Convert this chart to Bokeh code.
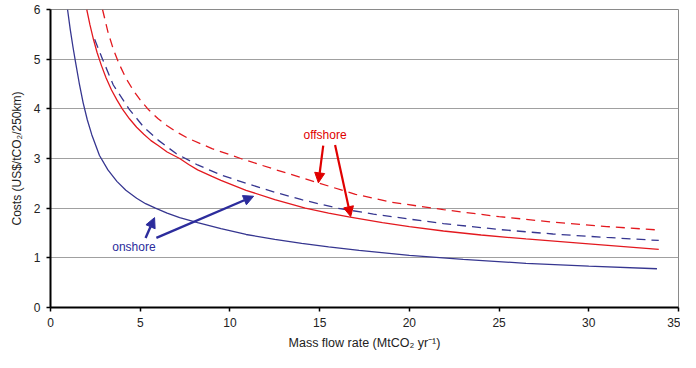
from bokeh.plotting import figure
from bokeh.models import Arrow, NormalHead, Range1d, FixedTicker, Label
from bokeh.embed import file_html
from bokeh.resources import INLINE

# Data
onshore_solid_x = [0.95, 1.1, 1.25, 1.4, 1.6, 1.82, 2.05, 2.3, 2.73, 3.2, 3.7, 4.2, 4.8, 5.3, 5.85, 6.5, 7.2, 8.2, 9.5, 10.9, 12.5, 14.0, 15.5, 17.2, 20.0, 23.0, 26.5, 30.0, 33.8]
onshore_solid_y = [6.0, 5.6, 5.25, 4.93, 4.52, 4.12, 3.78, 3.48, 3.06, 2.77, 2.54, 2.36, 2.2, 2.09, 2.0, 1.9, 1.81, 1.71, 1.59, 1.47, 1.37, 1.29, 1.22, 1.15, 1.05, 0.97, 0.89, 0.835, 0.78]

onshore_dash_x = [2.46, 2.9, 3.5, 4.37, 5.2, 6.0, 7.0, 8.2, 9.5, 10.9, 12.5, 14.0, 16.0, 18.0, 20.0, 21.9, 25.0, 28.0, 31.0, 33.9]
onshore_dash_y = [5.4, 5.0, 4.48, 4.0, 3.63, 3.37, 3.1, 2.87, 2.67, 2.5, 2.32, 2.17, 2.0, 1.88, 1.78, 1.69, 1.57, 1.48, 1.41, 1.35]

offshore_solid_x = [2.02, 2.2, 2.4, 2.6, 2.84, 3.1, 3.4, 3.7, 4.0, 4.4, 4.8, 5.2, 5.6, 6.0, 6.5, 7.2, 7.7, 8.2, 9.0, 9.5, 10.9, 12.5, 14.2, 15.5, 16.7, 18.5, 20.0, 21.9, 24.0, 26.5, 30.0, 33.9]
offshore_solid_y = [6.0, 5.69, 5.39, 5.13, 4.87, 4.62, 4.38, 4.18, 4.0, 3.8, 3.63, 3.49, 3.36, 3.26, 3.13, 3.0, 2.88, 2.77, 2.64, 2.56, 2.36, 2.17, 2.0, 1.9, 1.82, 1.71, 1.63, 1.54, 1.46, 1.38, 1.28, 1.17]

offshore_dash_x = [2.9, 3.2, 3.5, 3.83, 4.2, 4.6, 5.0, 5.47, 6.0, 6.5, 7.0, 7.65, 9.0, 10.6, 12.5, 15.0, 17.0, 19.0, 21.9, 25.0, 28.0, 31.0, 33.9]
offshore_dash_y = [6.0, 5.55, 5.2, 4.9, 4.62, 4.38, 4.18, 3.98, 3.8, 3.66, 3.54, 3.41, 3.2, 3.0, 2.78, 2.5, 2.28, 2.12, 1.97, 1.83, 1.72, 1.63, 1.56]

x_ticks = [0, 5, 10, 15, 20, 25, 30, 35]
y_ticks = [0, 1, 2, 3, 4, 5, 6]

# Annotations (data coordinates)
offshore_label = ("offshore", 15.3, 3.47)
onshore_label = ("onshore", 4.65, 1.21)
offshore_arrows = [(15.2, 3.26, 14.93, 2.51), (15.86, 3.27, 16.73, 1.83)]
onshore_arrows = [(5.3, 1.40, 5.8, 1.81), (5.9, 1.40, 11.32, 2.24)]

BLUE = "#363690"
RED = "#e3191f"
FONT = "Liberation Sans"

p = figure(width=680, height=352, output_backend="svg", toolbar_location=None,
           x_range=Range1d(0, 35), y_range=Range1d(0, 6),
           min_border_left=50, min_border_right=2, min_border_top=9, min_border_bottom=42)
p.background_fill_color = "white"
p.border_fill_color = "white"
p.outline_line_color = "#8a8a8a"
p.outline_line_width = 1

p.xgrid.grid_line_color = None
p.ygrid.grid_line_color = "#a0a0a0"
p.ygrid.grid_line_width = 1
p.ygrid.ticker = FixedTicker(ticks=y_ticks)

for ax in (p.xaxis, p.yaxis):
    ax.axis_line_color = "black"
    ax.axis_line_width = 2
    ax.major_tick_line_color = "black"
    ax.major_tick_line_width = 1.5
    ax.major_tick_in = 0
    ax.major_tick_out = 4
    ax.minor_tick_line_color = None
    ax.major_label_text_font = FONT
    ax.major_label_text_font_size = "12px"
    ax.major_label_text_color = "#222222"
    ax.axis_label_text_font = FONT
    ax.axis_label_text_font_size = "12px"
    ax.axis_label_text_font_style = "normal"
    ax.axis_label_text_color = "#222222"

p.xaxis.ticker = FixedTicker(ticks=x_ticks)
p.yaxis.ticker = FixedTicker(ticks=y_ticks)
p.xaxis.axis_label = "Mass flow rate (MtCO\u2082 yr\u207b\u00b9)"
p.yaxis.axis_label = "Costs (US$/tCO\u2082/250km)"
p.xaxis.axis_label_text_font_size = "12.5px"
p.xaxis.major_label_standoff = 6
p.xaxis.axis_label_standoff = 6
p.yaxis.major_label_standoff = 6
p.yaxis.axis_label_standoff = 7

p.line(onshore_solid_x, onshore_solid_y, line_color=BLUE, line_width=1.3)
p.line(onshore_dash_x, onshore_dash_y, line_color=BLUE, line_width=1.3, line_dash="9 6")
p.line(offshore_solid_x, offshore_solid_y, line_color=RED, line_width=1.3)
p.line(offshore_dash_x, offshore_dash_y, line_color=RED, line_width=1.3, line_dash="9 6")

for (x0, y0, x1, y1) in offshore_arrows:
    p.add_layout(Arrow(x_start=x0, y_start=y0, x_end=x1, y_end=y1,
                       line_color="#e00000", line_width=2.2,
                       end=NormalHead(size=10, fill_color="#e00000", line_color="#e00000")))
for (x0, y0, x1, y1) in onshore_arrows:
    p.add_layout(Arrow(x_start=x0, y_start=y0, x_end=x1, y_end=y1,
                       line_color="#2c2c9c", line_width=2.4,
                       end=NormalHead(size=10, fill_color="#2c2c9c", line_color="#2c2c9c")))

for (txt, tx, ty), col in ((offshore_label, "#e00000"), (onshore_label, "#2c2c9c")):
    p.add_layout(Label(x=tx, y=ty, text=txt, text_color=col, text_font=FONT,
                       text_font_size="12px", text_align="center", text_baseline="middle"))

open("out.html", "w").write(file_html(p, INLINE))
